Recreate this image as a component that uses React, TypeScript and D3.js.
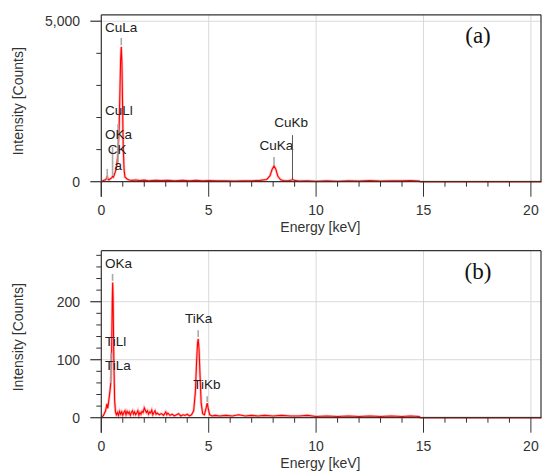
import React from "react";
import * as d3 from "d3";

// spectrum (a): Cu grid
const ENERGY_A = [
  0, 0.1, 0.2, 0.25, 0.28, 0.31, 0.36, 0.42, 0.48, 0.52, 0.56, 0.6, 0.66, 0.72, 0.78, 0.83, 0.87,
  0.9, 0.93, 0.96, 0.99, 1.02, 1.06, 1.1, 1.2, 1.3, 1.45, 1.6, 1.8, 2.0, 2.2, 2.5, 2.8, 3.1, 3.4,
  3.8, 4.1, 4.4, 4.7, 5.0, 5.4, 5.8, 6.2, 6.6, 7.0, 7.4, 7.7, 7.85, 7.95, 8.04, 8.12, 8.22, 8.35,
  8.5, 8.7, 8.85, 8.92, 9.0, 9.2, 9.6, 10.0, 10.5, 11.0, 11.5, 12.0, 12.5, 13.0, 13.5, 14.0, 14.4,
  14.8, 14.85, 20.5,
];
const COUNTS_A = [
  0, 40, 60, 110, 180, 70, 60, 90, 120, 160, 140, 210, 320, 520, 900, 1700, 2900,
  3800, 4200, 3700, 2400, 1100, 380, 150, 80, 55, 40, 55, 35, 50, 30, 45, 35, 40, 30,
  45, 30, 40, 25, 35, 25, 30, 20, 25, 30, 40, 70, 180, 380, 490, 400, 170, 60,
  30, 25, 50, 65, 40, 20, 25, 15, 25, 15, 30, 20, 35, 20, 30, 25, 35,
  20, 0, 0,
];

// spectrum (b): TiO2
const ENERGY_B = [
  0, 0.1, 0.2, 0.26, 0.3, 0.35, 0.4, 0.44, 0.48, 0.51, 0.53, 0.55, 0.58, 0.62, 0.66, 0.7, 0.75,
  0.8, 0.85, 0.9, 0.95, 1.0, 1.05, 1.1, 1.15, 1.2, 1.25, 1.3, 1.35, 1.4, 1.45, 1.5, 1.55, 1.6,
  1.65, 1.7, 1.75, 1.8, 1.85, 1.9, 1.95, 2.0, 2.05, 2.1, 2.15, 2.2, 2.25, 2.3, 2.35, 2.4, 2.45,
  2.5, 2.55, 2.6, 2.7, 2.8, 2.9, 3.0, 3.05, 3.1, 3.2, 3.3, 3.4, 3.5, 3.6, 3.7, 3.8, 3.9, 4.0,
  4.1, 4.2, 4.3, 4.38, 4.44, 4.48, 4.51, 4.55, 4.6, 4.65, 4.72, 4.8, 4.86, 4.93, 4.98, 5.05,
  5.15, 5.3, 5.5, 5.8, 6.1, 6.4, 6.7, 7.0, 7.3, 7.6, 8.0, 8.4, 8.8, 9.2, 9.6, 10.0, 10.5, 11.0,
  11.5, 12.0, 12.5, 13.0, 13.5, 14.0, 14.4, 14.8, 14.85, 20.5,
];
const COUNTS_B = [
  0, 4, 12, 24, 16, 30, 45, 60, 110, 200, 233, 205, 110, 30, 10, 5, 9,
  4, 11, 6, 10, 4, 9, 12, 5, 11, 7, 10, 4, 9, 12, 6, 10, 5,
  8, 12, 4, 9, 6, 11, 9, 17, 13, 9, 12, 6, 10, 8, 13, 5, 9,
  12, 6, 8, 5, 7, 4, 10, 5, 8, 4, 6, 3, 5, 7, 3, 5, 4, 6,
  3, 5, 12, 45, 100, 128, 136, 118, 70, 25, 7, 5, 14, 25, 15, 5,
  3, 4, 3, 4, 3, 5, 3, 4, 3, 4, 3, 4, 3, 3, 4, 2, 3, 2,
  3, 2, 3, 2, 3, 2, 3, 2, 0, 0,
];

// peak labels: text, label energy / counts (baseline), marker energy, marker from / to counts
const LABELS_A = [
  { text: "CuLa", x: 0.17, y: 4660, e: 0.93, m0: 4250, m1: 4480, dark: false },
  { text: "CuLl", x: 0.17, y: 2080, e: 0.78, m0: 600, m1: 1800, dark: false },
  { text: "OKa", x: 0.17, y: 1330, e: 0.525, m0: 180, m1: 1080, dark: false },
  { text: "CK", x: 0.3, y: 860, e: 0.277, m0: 60, m1: 400, dark: false },
  { text: "a", x: 0.62, y: 365, e: null, m0: 0, m1: 0, dark: false },
  { text: "CuKa", x: 7.36, y: 990, e: 8.04, m0: 520, m1: 770, dark: false },
  { text: "CuKb", x: 8.05, y: 1700, e: 8.9, m0: 80, m1: 1450, dark: true },
];
const LABELS_B = [
  { text: "OKa", x: 0.17, y: 259, e: 0.525, m0: 236, m1: 248, dark: false },
  { text: "TiLl", x: 0.17, y: 124, e: 0.45, m0: 60, m1: 112, dark: false },
  { text: "TiLa", x: 0.17, y: 82, e: null, m0: 0, m1: 0, dark: false },
  { text: "TiKa", x: 3.9, y: 163, e: 4.51, m0: 139, m1: 151, dark: false },
  { text: "TiKb", x: 4.28, y: 50, e: 4.93, m0: 27, m1: 37, dark: false },
];

const X_MAJOR = [0, 5, 10, 15, 20];
const X_MINOR = d3.range(0, 21, 1);

const FONT = "'Liberation Sans', Arial, Helvetica, sans-serif";

type Label = { text: string; x: number; y: number; e: number | null; m0: number; m1: number; dark: boolean };

function Panel({
  top,
  bottom,
  yMax,
  yMajor,
  yMinor,
  yFormat,
  energy,
  counts,
  labels,
  tag,
}: {
  top: number;
  bottom: number;
  yMax: number;
  yMajor: number[];
  yMinor: number[];
  yFormat: (v: number) => string;
  energy: number[];
  counts: number[];
  labels: Label[];
  tag: string;
}) {
  const left = 101.3;
  const right = 541;
  const x = d3.scaleLinear().domain([0, 20.47]).range([left, right]);
  const y = d3.scaleLinear().domain([0, yMax]).range([bottom, top]);
  const pts = energy.map((e, i) => [e, counts[i]] as [number, number]);
  const line = d3
    .line<[number, number]>()
    .x((d) => x(d[0]))
    .y((d) => y(d[1]));
  const path = line(pts) || "";
  const axisColor = "#333";

  return (
    <g>
      {/* grid */}
      {X_MAJOR.filter((v) => v > 0).map((v) => (
        <line key={"gx" + v} x1={x(v)} x2={x(v)} y1={top} y2={bottom} stroke="#d9d9d9" strokeWidth={1} />
      ))}
      {yMajor.filter((v) => v > 0).map((v) => (
        <line key={"gy" + v} x1={left} x2={right} y1={y(v)} y2={y(v)} stroke="#d9d9d9" strokeWidth={1} />
      ))}

      {/* spectrum */}
      <path d={path} fill="none" stroke="#ff4040" strokeOpacity={0.35} strokeWidth={2.6} />
      <path d={path} fill="none" stroke="#ff0000" strokeWidth={1.1} />

      {/* frame */}
      <line x1={left} x2={right} y1={top} y2={top} stroke={axisColor} strokeWidth={1.2} />
      <line x1={right} x2={right} y1={top} y2={bottom} stroke={axisColor} strokeWidth={1.2} />
      <line x1={left} x2={left} y1={top} y2={bottom + 15} stroke={axisColor} strokeWidth={1.2} />
      <line x1={left} x2={right} y1={bottom} y2={bottom} stroke={axisColor} strokeWidth={1.2} />

      {/* x ticks */}
      {X_MINOR.map((v) => (
        <line
          key={"xt" + v}
          x1={x(v)}
          x2={x(v)}
          y1={bottom}
          y2={bottom + (v % 5 === 0 ? 15 : 5)}
          stroke={axisColor}
          strokeWidth={1}
        />
      ))}
      {X_MAJOR.map((v) => (
        <text key={"xl" + v} x={x(v)} y={bottom + 33} textAnchor="middle" fontSize={14} fill="#333" fontFamily={FONT}>
          {v}
        </text>
      ))}
      <text x={x(10.2)} y={bottom + 50} textAnchor="middle" fontSize={14} fill="#333" fontFamily={FONT}>
        Energy [keV]
      </text>

      {/* y ticks */}
      {yMinor.map((v) => (
        <line key={"yt" + v} x1={left - 5} x2={left} y1={y(v)} y2={y(v)} stroke={axisColor} strokeWidth={1} />
      ))}
      {yMajor.map((v) => (
        <g key={"yl" + v}>
          <line x1={left - 11} x2={left} y1={y(v)} y2={y(v)} stroke={axisColor} strokeWidth={1.2} />
          <text x={80} y={y(v) + 5} textAnchor="end" fontSize={14} fill="#333" fontFamily={FONT}>
            {yFormat(v)}
          </text>
        </g>
      ))}
      <text
        transform={`translate(23,${(top + bottom) / 2 + 3}) rotate(-90)`}
        textAnchor="middle"
        fontSize={14}
        fill="#333"
        fontFamily={FONT}
      >
        Intensity [Counts]
      </text>

      {/* peak markers and labels */}
      {labels.map((l, i) => (
        <g key={"pk" + i}>
          {l.e !== null ? (
            <line
              x1={x(l.e)}
              x2={x(l.e)}
              y1={y(l.m0)}
              y2={y(l.m1)}
              stroke={l.dark ? "#555" : "#aaa"}
              strokeWidth={l.dark ? 1 : 1.6}
            />
          ) : null}
          <text x={x(l.x)} y={y(l.y)} fontSize={13.5} fill="#222" fontFamily={FONT}>
            {l.text}
          </text>
        </g>
      ))}

      <text x={478} y={top + 28} textAnchor="middle" fontSize={23} fill="#111" fontFamily="'Liberation Serif', 'Times New Roman', serif">
        {tag}
      </text>
    </g>
  );
}

export default function App() {
  const fmt = d3.format(",");
  return (
    <svg width={542} height={472} style={{ position: "absolute", left: 0, top: 0, background: "#fff" }}>
      <rect width={542} height={472} fill="#fff" />
      <Panel
        top={14.8}
        bottom={181.7}
        yMax={5200}
        yMajor={[0, 5000]}
        yMinor={[1000, 2000, 3000, 4000]}
        yFormat={fmt}
        energy={ENERGY_A}
        counts={COUNTS_A}
        labels={LABELS_A}
        tag="(a)"
      />
      <Panel
        top={250.7}
        bottom={417.7}
        yMax={288}
        yMajor={[0, 100, 200]}
        yMinor={[20, 40, 60, 80, 120, 140, 160, 180, 220, 240, 260, 280]}
        yFormat={fmt}
        energy={ENERGY_B}
        counts={COUNTS_B}
        labels={LABELS_B}
        tag="(b)"
      />
    </svg>
  );
}
